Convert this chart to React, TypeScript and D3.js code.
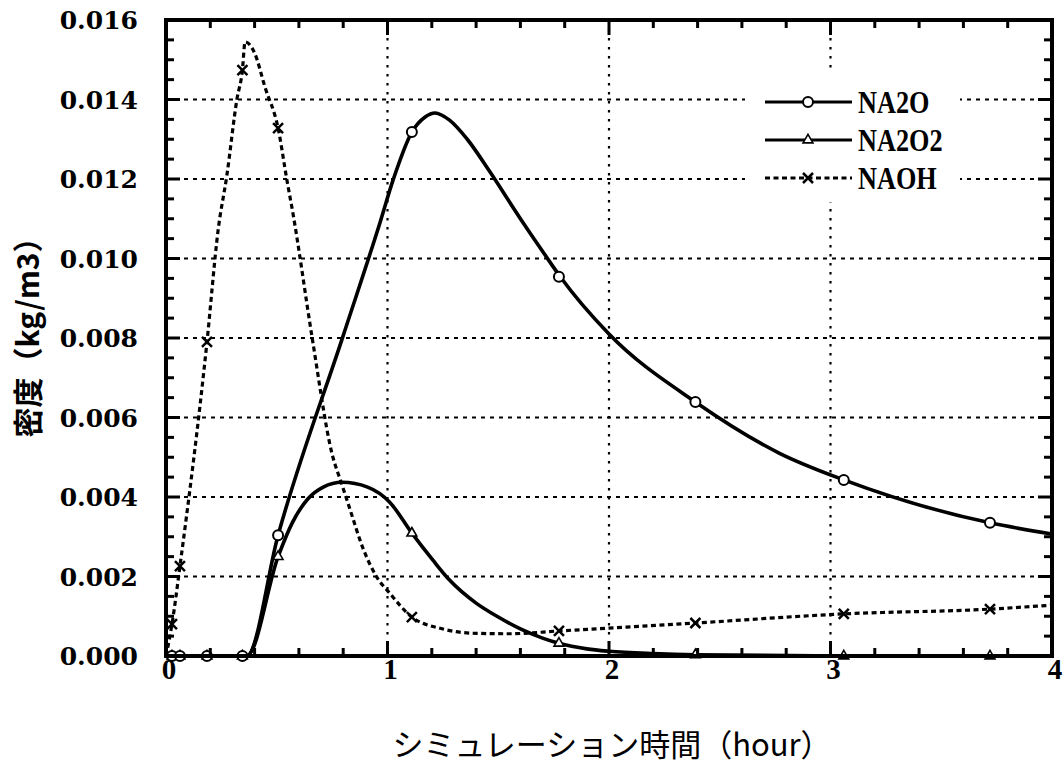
import React from "react";
import * as d3 from "d3";

// ---- data ----
const xTickValues = [0, 1, 2, 3, 4];
const xTickLabels = ["0", "1", "2", "3", "4"];
const yTickValues = [0, 0.002, 0.004, 0.006, 0.008, 0.01, 0.012, 0.014, 0.016];
const yTickLabels = ["0.000", "0.002", "0.004", "0.006", "0.008", "0.010", "0.012", "0.014", "0.016"];
const seriesNames = ["NA2O", "NA2O2", "NAOH"];

const na2oTime = [0, 0.027, 0.063, 0.185, 0.345, 0.365, 0.506, 0.8, 0.966, 1.025, 1.11, 1.17, 1.215, 1.28, 1.36, 1.46, 1.6, 1.71, 1.78, 2.0, 2.39, 2.77, 3.06, 3.72, 4.0];
const na2oValue = [0, 0, 0, 0, 0, 0, 0.00304, 0.00806, 0.0109, 0.01197, 0.01318, 0.01356, 0.01366, 0.01348, 0.0130, 0.0122, 0.0110, 0.0101, 0.00954, 0.0081, 0.00639, 0.0051, 0.00443, 0.00335, 0.00307];

const na2o2Time = [0, 0.027, 0.063, 0.185, 0.345, 0.365, 0.506, 0.57, 0.64, 0.71, 0.795, 0.91, 1.01, 1.11, 1.205, 1.28, 1.4, 1.5, 1.6, 1.7, 1.774, 1.9, 2.0, 2.2, 2.39, 3.06, 3.72, 4.0];
const na2o2Value = [0, 0, 0, 0, 0, 0, 0.0025, 0.00335, 0.00395, 0.00425, 0.00437, 0.00425, 0.00387, 0.00309, 0.00241, 0.00191, 0.00133, 0.00098, 0.00068, 0.00045, 0.00032, 0.00018, 0.00012, 0.00006, 0.00003, 0, 0, 0];

const naohTime = [0, 0.027, 0.063, 0.185, 0.235, 0.275, 0.32, 0.345, 0.357, 0.4, 0.447, 0.506, 0.546, 0.573, 0.66, 0.749, 0.795, 0.83, 0.89, 0.95, 1.01, 1.11, 1.25, 1.4, 1.55, 1.774, 2.39, 3.06, 3.72, 4.0];
const naohValue = [0, 0.0008, 0.00226, 0.0079, 0.0107, 0.0121, 0.014, 0.01474, 0.01545, 0.01517, 0.01431, 0.01328, 0.01197, 0.01114, 0.008, 0.0051, 0.0043, 0.0037, 0.0027, 0.002, 0.00158, 0.00098, 0.00068, 0.00057, 0.00056, 0.00063, 0.00083, 0.00106, 0.00118, 0.00128];

const markerTime = [0.027, 0.063, 0.185, 0.345, 0.506, 1.11, 1.774, 2.39, 3.06, 3.72];
const na2oMarkerValue = [0, 0, 0, 0, 0.00304, 0.01318, 0.00954, 0.00639, 0.00443, 0.00335];
const na2o2MarkerValue = [0, 0, 0, 0, 0.0025, 0.00309, 0.00032, 0.00003, 0, 0];
const naohMarkerValue = [0.0008, 0.00226, 0.0079, 0.01474, 0.01328, 0.00098, 0.00063, 0.00083, 0.00106, 0.00118];

const W = 1063;
const H = 770;
const L = 166, R = 1052, T = 20, B = 656;

export default function App() {
  const x = d3.scaleLinear().domain([0, 4]).range([L, R]);
  const y = d3.scaleLinear().domain([0, 0.016]).range([B, T]);
  const line = d3
    .line<[number, number]>()
    .x((d) => x(d[0]))
    .y((d) => y(d[1]))
    .curve(d3.curveMonotoneX);
  const zip = (a: number[], b: number[]) => a.map((v, i) => [v, b[i]] as [number, number]);

  const xMinor = d3.range(0, 4.0001, 0.2);
  const yMinor = d3.range(0, 0.016001, 0.0005);
  const triPath = d3.symbol(d3.symbolTriangle, 42)() as string;

  const circle = (cx: number, cy: number, k: string) => (
    <circle key={k} cx={cx} cy={cy} r={5} fill="#fff" stroke="#000" strokeWidth={2} />
  );
  const tri = (cx: number, cy: number, k: string) => (
    <path key={k} d={triPath} transform={`translate(${cx},${cy})`} fill="#fff" stroke="#000" strokeWidth={1.6} />
  );
  const cross = (cx: number, cy: number, k: string) => (
    <path key={k} d={`M${cx - 5},${cy - 5}L${cx + 5},${cy + 5}M${cx - 5},${cy + 5}L${cx + 5},${cy - 5}`} stroke="#000" strokeWidth={2.5} fill="none" />
  );

  const legendRows = [102, 140, 178];

  return (
    <svg width={W} height={H} style={{ position: "absolute", left: 0, top: 0, background: "#fff" }}>
      <defs>
        <clipPath id="plotclip">
          <rect x={L} y={T - 10} width={R - L} height={B - T + 12} />
        </clipPath>
      </defs>
      <rect x={0} y={0} width={W} height={H} fill="#fff" />
      {/* grid */}
      {yTickValues.slice(1, -1).map((v) => (
        <line key={"gy" + v} x1={L} x2={R} y1={y(v)} y2={y(v)} stroke="#000" strokeWidth={2.2} strokeDasharray="4,5" />
      ))}
      {xTickValues.slice(1, -1).map((v) => (
        <line key={"gx" + v} x1={x(v)} x2={x(v)} y1={T} y2={B} stroke="#000" strokeWidth={2.2} strokeDasharray="2.5,6.5" />
      ))}
      {/* legend background */}
      <rect x={745} y={70} width={215} height={132} fill="#fff" />
      {/* curves */}
      <g clipPath="url(#plotclip)">
        <path d={line(zip(naohTime, naohValue)) as string} fill="none" stroke="#000" strokeWidth={3.2} strokeDasharray="5,3.5" />
        <path d={line(zip(na2o2Time, na2o2Value)) as string} fill="none" stroke="#000" strokeWidth={3.6} />
        <path d={line(zip(na2oTime, na2oValue)) as string} fill="none" stroke="#000" strokeWidth={3.6} />
      </g>
      {/* markers */}
      {markerTime.map((t, i) => cross(x(t), y(naohMarkerValue[i]), "mx" + i))}
      {markerTime.map((t, i) => tri(x(t), y(na2o2MarkerValue[i]), "mt" + i))}
      {markerTime.map((t, i) => circle(x(t), y(na2oMarkerValue[i]), "mc" + i))}
      {/* frame */}
      <rect x={L} y={T} width={R - L} height={B - T} fill="none" stroke="#000" strokeWidth={4} />
      {/* ticks */}
      {yMinor.map((v, i) => {
        const major = i % 4 === 0;
        const len = major ? 14 : 8;
        return (
          <g key={"ty" + i}>
            <line x1={L} x2={L + len} y1={y(v)} y2={y(v)} stroke="#000" strokeWidth={3} />
            <line x1={R} x2={R - len} y1={y(v)} y2={y(v)} stroke="#000" strokeWidth={3} />
          </g>
        );
      })}
      {xMinor.map((v, i) => {
        const major = i % 5 === 0;
        const len = major ? 15 : 8;
        return (
          <g key={"tx" + i}>
            <line x1={x(v)} x2={x(v)} y1={B} y2={B - len} stroke="#000" strokeWidth={3} />
            <line x1={x(v)} x2={x(v)} y1={T} y2={T + len} stroke="#000" strokeWidth={3} />
          </g>
        );
      })}
      {/* y tick labels */}
      {yTickValues.map((v, i) => (
        <text key={"yl" + i} x={138} y={y(v)} dy="0.36em" textAnchor="end" fontFamily="DejaVu Serif" fontWeight="bold" fontSize={25} fill="#000">
          {yTickLabels[i]}
        </text>
      ))}
      {/* x tick labels */}
      {xTickValues.map((v, i) => (
        <text key={"xl" + i} x={x(v) + 3} y={679} textAnchor="middle" fontFamily="Liberation Serif" fontWeight="bold" fontSize={29} fill="#000">
          {xTickLabels[i]}
        </text>
      ))}
      {/* axis titles */}
      <text x={612} y={756} textAnchor="middle" fontFamily="Noto Sans CJK JP" fontSize={31} fill="#000">
        シミュレーション時間（hour）
      </text>
      <text transform="translate(39,330) rotate(-90)" textAnchor="middle" fontFamily="Noto Sans CJK JP" fontWeight="bold" fontSize={30} fill="#000">
        密度（kg/m3）
      </text>
      {/* legend */}
      {seriesNames.map((name, i) => {
        const ly = legendRows[i];
        return (
          <g key={"lg" + i}>
            <line x1={765} x2={852} y1={ly} y2={ly} stroke="#000" strokeWidth={3.2} strokeDasharray={i === 2 ? "5,3.5" : undefined} />
            {i === 0 ? circle(808, ly, "lc") : i === 1 ? tri(808, ly, "lt") : cross(808, ly, "lx")}
            <text transform={`translate(858,${ly + 11}) scale(0.82,1)`} fontFamily="Liberation Serif" fontWeight="bold" fontSize={32} fill="#000">
              {name}
            </text>
          </g>
        );
      })}
    </svg>
  );
}
